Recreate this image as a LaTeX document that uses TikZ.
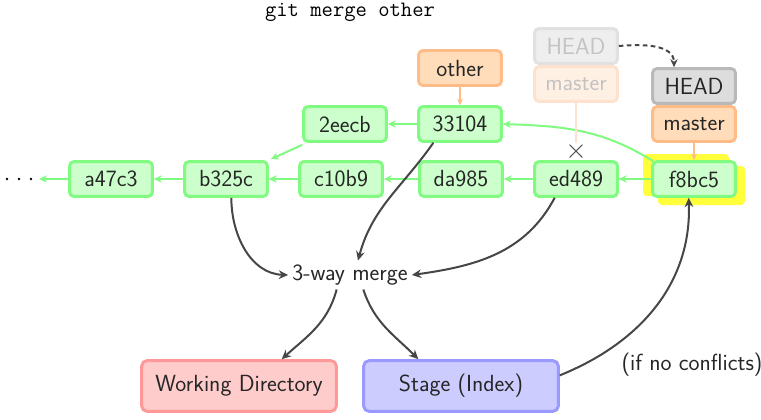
\documentclass[tikz,border=0pt]{standalone}
\usepackage{fontspec}
\usetikzlibrary{arrows.meta}
\definecolor{gb}{RGB}{128,250,128}
\definecolor{gf}{RGB}{204,255,204}
\definecolor{ob}{RGB}{255,187,136}
\definecolor{of}{RGB}{255,221,187}
\definecolor{hb}{RGB}{185,185,185}
\definecolor{hf}{RGB}{221,221,221}
\definecolor{fhb}{RGB}{225,225,225}
\definecolor{fhf}{RGB}{238,238,238}
\definecolor{fmb}{RGB}{255,226,205}
\definecolor{fmf}{RGB}{255,240,228}
\definecolor{ftxt}{RGB}{195,195,195}
\definecolor{rb}{RGB}{255,153,153}
\definecolor{rf}{RGB}{255,204,204}
\definecolor{bb}{RGB}{153,153,255}
\definecolor{bf}{RGB}{204,204,255}
\definecolor{ink}{RGB}{70,70,70}
\definecolor{hl}{RGB}{255,255,60}
\begin{document}
\begin{tikzpicture}[x=0.75pt,y=-0.75pt,
  txt/.style={font=\fontsize{17.5}{21}\selectfont\sffamily, text=black!85},
  box/.style={txt, line width=2.2pt, rounded corners=3pt, minimum width=62pt, minimum height=26pt, inner sep=0pt},
  commit/.style={box, draw=gb, fill=gf},
  branch/.style={box, draw=ob, fill=of},
  headbox/.style={box, draw=hb, fill=hf},
  fhead/.style={box, draw=fhb, fill=fhf, text=ftxt},
  fbranch/.style={box, draw=fmb, fill=fmf, text=ftxt},
  area/.style={txt, line width=2.2pt, rounded corners=4pt, minimum width=146pt, minimum height=38pt, inner sep=0pt},
  garrow/.style={draw=gb, line width=1.5pt, -{Stealth[length=6pt,width=5.5pt]}},
  oarrow/.style={draw=ob, line width=1.3pt, -{Stealth[length=5pt,width=4.5pt]}},
  karrow/.style={draw=ink, line width=1.5pt, -{Stealth[length=7pt,width=6.5pt]}},
]
\useasboundingbox (0,0) rectangle (761,419);

\node[font=\fontsize{16.5}{20}\selectfont\ttfamily] (title) at (350,12) {git merge other};

% yellow highlight behind f8bc5
\fill[hl, rounded corners=3pt] (643,154) rectangle (729,196);
\fill[hl, rounded corners=3pt] (658,166) rectangle (745,205);

% commits
\node[commit] (a47c3) at (111,179) {a47c3};
\node[commit] (b325c) at (226,179) {b325c};
\node[commit] (c10b9) at (341,179) {c10b9};
\node[commit] (da985) at (461,179) {da985};
\node[commit] (ed489) at (576,179) {ed489};
\node[commit] (f8bc5) at (694,179) {f8bc5};
\node[commit] (2eecb) at (345,124) {2eecb};
\node[commit] (33104) at (460,124) {33104};

% branches
\node[branch] (other) at (460,68) {other};
\node[fhead] (fhead) at (576,46) {HEAD};
\node[fbranch] (fmaster) at (576,84) {master};
\node[headbox] (head) at (694,86) {HEAD};
\node[branch] (master) at (694,124) {master};

% dots
\fill[black] (7,179) circle (1.3) (19,179) circle (1.3) (31,179) circle (1.3);
\coordinate (dotend) at (39,179);

% green parent arrows
\draw[garrow] (a47c3) -- (dotend);
\draw[garrow] (b325c) -- (a47c3);
\draw[garrow] (c10b9) -- (b325c);
\draw[garrow] (da985) -- (c10b9);
\draw[garrow] (ed489) -- (da985);
\draw[garrow] (f8bc5) -- (ed489);
\draw[garrow] (33104) -- (2eecb);
\draw[garrow] ([shift={(0,2)}]2eecb.south west) -- ([shift={(2,-1)}]b325c.north east);
\draw[garrow] ([shift={(2,1)}]f8bc5.north west) to[out=148,in=-2] (33104.east);

% branch arrows
\draw[oarrow] (other) -- (33104);
\draw[oarrow] (master) -- (f8bc5);
\node[text=ink, font=\fontsize{20}{20}\selectfont, inner sep=0pt] (cross) at (576,152) {$\times$};
\draw[draw=fmb, line width=1.3pt] (fmaster) -- (cross);
\draw[draw=ink, line width=1.5pt, dashed, dash pattern=on 3.5pt off 2.5pt, -{Stealth[length=6pt,width=5.5pt]}]
  (fhead.east) to[out=5,in=90] ([xshift=-15pt]head.north);

% merge
\node[txt, inner sep=3pt] (merge) at (350,275) {3-way merge};
\draw[karrow] ([xshift=-20pt]33104.south) to[out=-125,in=75] ([xshift=6pt]merge.north);
\draw[karrow] ([xshift=4pt]b325c.south) to[out=-90,in=178] (merge.west);
\draw[karrow] ([xshift=-16pt]ed489.south) to[out=-118,in=8] (merge.east);

% areas
\node[area, draw=rb, fill=rf] (wd) at (239,386) {Working Directory};
\node[area, draw=bb, fill=bf] (stage) at (461,386) {Stage (Index)};
\draw[karrow] ([xshift=-10pt]merge.south) to[out=-105,in=42] ([xshift=32pt]wd.north);
\draw[karrow] ([xshift=10pt]merge.south) to[out=-72,in=135] ([xshift=-32pt]stage.north);
\draw[karrow] ([yshift=8pt]stage.east) to[out=22,in=-88] ([xshift=-4pt]f8bc5.south);

\node[txt] (cond) at (692,365) {(if no conflicts)};
\end{tikzpicture}
\end{document}
